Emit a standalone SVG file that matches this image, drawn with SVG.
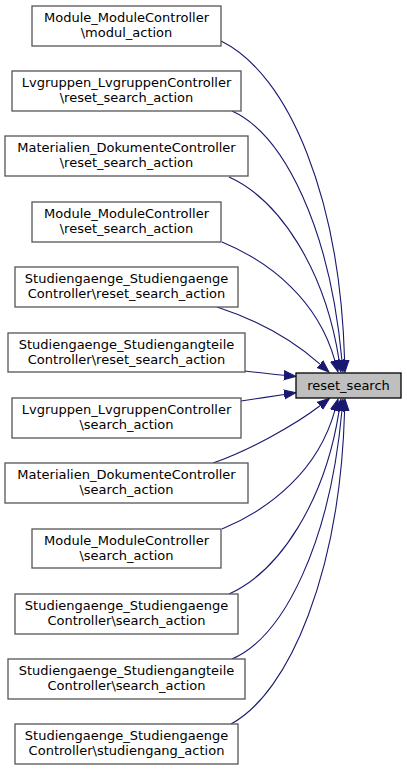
<svg xmlns="http://www.w3.org/2000/svg" width="407" height="771" viewBox="0 0 407 771">
<style>
.n rect{fill:#ffffff;stroke:#555555;stroke-width:1.3}
.t rect{fill:#bfbfbf;stroke:#000000;stroke-width:1.3}
text{font-family:"DejaVu Sans",sans-serif;font-size:13px;fill:#000000;text-anchor:middle}
.e path{fill:none;stroke:#191970;stroke-width:1.1}
</style>
<defs>
<marker id="ah" markerUnits="userSpaceOnUse" markerWidth="14" markerHeight="12" refX="0" refY="6" orient="auto" viewBox="0 0 14 12">
<path d="M0,1.5 L12,6 L0,10.5 z" fill="#191970" stroke="#191970" stroke-width="1"/>
</marker>
</defs>
<rect width="407" height="771" fill="#ffffff"/>
<g id="edges" class="e">
<path d="M221,41 C290,75 340,200 344.6,360" marker-end="url(#ah)"/>
<path d="M232,111 C285,135 330,230 341.9,360" marker-end="url(#ah)"/>
<path d="M229,177 C280,200 325,270 339.1,360.1" marker-end="url(#ah)"/>
<path d="M222,242 C270,262 318,300 334.8,360.4" marker-end="url(#ah)"/>
<path d="M217,307 C260,321 295,342 320,364.1" marker-end="url(#ah)"/>
<path d="M245,371 C258,372.5 270,374 284,375.3" marker-end="url(#ah)"/>
<path d="M241,401 C255,399 270,396.5 284.1,394.5" marker-end="url(#ah)"/>
<path d="M213,463 C250,450 295,425 320,405.8" marker-end="url(#ah)"/>
<path d="M222,529 C270,509 318,471 334.8,410.6" marker-end="url(#ah)"/>
<path d="M229,594 C280,571 325,501 339.1,410.9" marker-end="url(#ah)"/>
<path d="M232,659 C285,636 330,541 341.9,411" marker-end="url(#ah)"/>
<path d="M231,724 C290,692 340,571 344.6,411" marker-end="url(#ah)"/>
</g>
<g id="target" class="t">
<rect x="296" y="373" width="105" height="25"/>
<text x="348.5" y="390">reset_search</text>
</g>
<g id="n1" class="n">
<rect x="32" y="6" width="189" height="40"/>
<text x="126.5" y="22">Module_ModuleController</text>
<text x="126.5" y="37">\modul_action</text>
</g>
<g id="n2" class="n">
<rect x="12" y="71" width="229" height="40"/>
<text x="126.5" y="87">Lvgruppen_LvgruppenController</text>
<text x="126.5" y="102">\reset_search_action</text>
</g>
<g id="n3" class="n">
<rect x="5" y="136" width="243" height="40"/>
<text x="126.5" y="152">Materialien_DokumenteController</text>
<text x="126.5" y="167">\reset_search_action</text>
</g>
<g id="n4" class="n">
<rect x="32" y="202" width="189" height="40"/>
<text x="126.5" y="218">Module_ModuleController</text>
<text x="126.5" y="233">\reset_search_action</text>
</g>
<g id="n5" class="n">
<rect x="15" y="267" width="223" height="40"/>
<text x="126.5" y="283">Studiengaenge_Studiengaenge</text>
<text x="126.5" y="298">Controller\reset_search_action</text>
</g>
<g id="n6" class="n">
<rect x="8" y="333" width="237" height="39"/>
<text x="126.5" y="349">Studiengaenge_Studiengangteile</text>
<text x="126.5" y="364">Controller\reset_search_action</text>
</g>
<g id="n7" class="n">
<rect x="12" y="398" width="229" height="40"/>
<text x="126.5" y="414">Lvgruppen_LvgruppenController</text>
<text x="126.5" y="429">\search_action</text>
</g>
<g id="n8" class="n">
<rect x="5" y="463" width="243" height="40"/>
<text x="126.5" y="479">Materialien_DokumenteController</text>
<text x="126.5" y="494">\search_action</text>
</g>
<g id="n9" class="n">
<rect x="32" y="529" width="189" height="39"/>
<text x="126.5" y="545">Module_ModuleController</text>
<text x="126.5" y="560">\search_action</text>
</g>
<g id="n10" class="n">
<rect x="15" y="594" width="223" height="40"/>
<text x="126.5" y="610">Studiengaenge_Studiengaenge</text>
<text x="126.5" y="625">Controller\search_action</text>
</g>
<g id="n11" class="n">
<rect x="8" y="659" width="237" height="40"/>
<text x="126.5" y="675">Studiengaenge_Studiengangteile</text>
<text x="126.5" y="690">Controller\search_action</text>
</g>
<g id="n12" class="n">
<rect x="15" y="724" width="223" height="40"/>
<text x="126.5" y="740">Studiengaenge_Studiengaenge</text>
<text x="126.5" y="755">Controller\studiengang_action</text>
</g>
</svg>
